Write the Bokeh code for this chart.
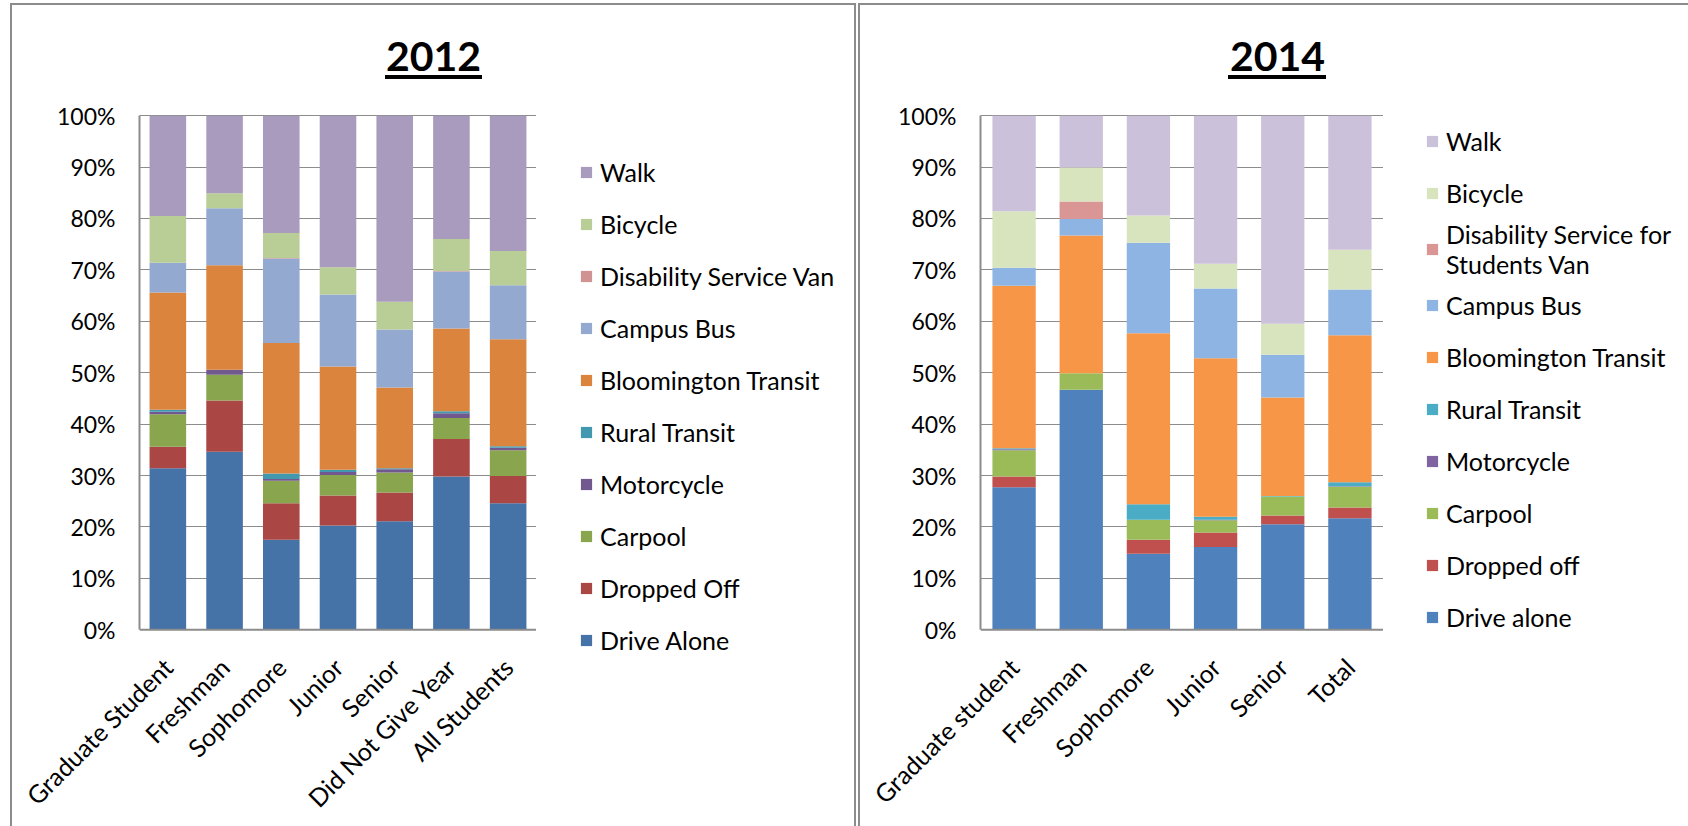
import math
from bokeh.plotting import figure
from bokeh.layouts import row
from bokeh.models import (ColumnDataSource, FactorRange, Range1d, Legend, LegendItem, Label,
                          NumeralTickFormatter, FixedTicker, Span)
from bokeh.embed import file_html
from bokeh.resources import INLINE

# ---------------- 2012 data (percent) ----------------
cats_2012 = ["Graduate Student", "Freshman", "Sophomore", "Junior", "Senior",
             "Did Not Give Year", "All Students"]
modes_2012 = ["Drive Alone", "Dropped Off", "Carpool", "Motorcycle", "Rural Transit",
              "Bloomington Transit", "Campus Bus", "Disability Service Van", "Bicycle", "Walk"]
drive_2012 = [31.4, 34.6, 17.5, 20.3, 21.1, 29.8, 24.6]
dropped_2012 = [4.2, 10.0, 7.1, 5.8, 5.6, 7.3, 5.3]
carpool_2012 = [6.3, 5.0, 4.4, 4.0, 3.9, 4.1, 5.0]
motorcycle_2012 = [0.5, 1.0, 0.3, 0.6, 0.6, 0.9, 0.5]
rural_2012 = [0.4, 0.0, 1.1, 0.4, 0.2, 0.4, 0.3]
bloomington_2012 = [22.8, 20.3, 25.4, 20.1, 15.7, 16.1, 20.8]
campus_2012 = [5.8, 11.1, 16.4, 14.0, 11.3, 11.1, 10.5]
disability_2012 = [0.0, 0.0, 0.1, 0.0, 0.0, 0.1, 0.0]
bicycle_2012 = [9.1, 2.9, 4.9, 5.3, 5.4, 6.2, 6.7]
walk_2012 = [19.5, 15.1, 22.8, 29.5, 36.2, 24.0, 26.3]
colors_2012 = ["#4572A7", "#AA4643", "#89A54E", "#71588F", "#4198AF",
               "#DB843D", "#93A9CF", "#D19392", "#B9CD96", "#A99BBD"]

# ---------------- 2014 data (percent) ----------------
cats_2014 = ["Graduate student", "Freshman", "Sophomore", "Junior", "Senior", "Total"]
modes_2014 = ["Drive alone", "Dropped off", "Carpool", "Motorcycle", "Rural Transit",
              "Bloomington Transit", "Campus Bus", "Disability Service for\nStudents Van",
              "Bicycle", "Walk"]
drive_2014 = [27.7, 46.7, 14.8, 16.1, 20.5, 21.7]
dropped_2014 = [2.1, 0.0, 2.7, 2.8, 1.7, 2.1]
carpool_2014 = [5.1, 3.2, 3.9, 2.4, 3.7, 4.0]
motorcycle_2014 = [0.2, 0.0, 0.0, 0.1, 0.0, 0.1]
rural_2014 = [0.2, 0.0, 3.0, 0.6, 0.1, 0.8]
bloomington_2014 = [31.6, 26.8, 33.3, 30.8, 19.2, 28.6]
campus_2014 = [3.5, 3.2, 17.6, 13.6, 8.3, 8.9]
disability_2014 = [0.0, 3.4, 0.0, 0.0, 0.0, 0.0]
bicycle_2014 = [11.0, 6.6, 5.3, 4.8, 6.0, 7.7]
walk_2014 = [18.6, 10.1, 19.4, 28.8, 40.5, 26.1]
colors_2014 = ["#4F81BD", "#C0504D", "#9BBB59", "#8064A2", "#4BACC6",
               "#F79646", "#8EB4E3", "#D99694", "#D7E4BD", "#CCC1DA"]

FONT = "Lato"
FS = "25px"
GRAY = "#8c8c8c"
H = 826
FT, FB = 30, 660          # shared frame top / bottom (pixels) of every figure in the row
Y100, Y0 = 116, 635       # pixel rows of 100% and 0%
PPU = Y0 - Y100


def deco_styles(layers):
    # panel frame lines and title underlines, drawn as CSS background layers
    imgs, sizes, poss = [], [], []
    for color, x, y, w, h in layers:
        imgs.append("linear-gradient(%s, %s)" % (color, color))
        sizes.append("%dpx %dpx" % (w, h))
        poss.append("%dpx %dpx" % (x, y))
    return {"background-image": ", ".join(imgs), "background-size": ", ".join(sizes),
            "background-position": ", ".join(poss), "background-repeat": "no-repeat"}


def make_chart(cats, series, colors, width, bl, title, title_x):
    keys = ["s%d" % i for i in range(len(series))]
    data = {"cat": cats}
    for k, v in zip(keys, series):
        data[k] = [x / 100.0 for x in v]
    src = ColumnDataSource(data)
    y_range = Range1d(-(FB - Y0) / PPU, 1 + (Y100 - FT) / PPU)
    p = figure(x_range=FactorRange(*cats), y_range=y_range, width=width, height=H,
               output_backend="svg", toolbar_location=None, title=None,
               min_border_left=bl, min_border_right=0, min_border_top=FT,
               min_border_bottom=H - FB)
    p.vbar_stack(keys, x="cat", width=0.645, fill_color=colors, line_color=None, source=src)
    p.background_fill_color = None
    p.border_fill_color = None
    p.outline_line_color = None

    p.yaxis.ticker = FixedTicker(ticks=[i / 10 for i in range(11)])
    p.yaxis.formatter = NumeralTickFormatter(format="0%")
    p.yaxis.bounds = (0, 1)
    for ax in (p.xaxis[0], p.yaxis[0]):
        ax.axis_line_color = GRAY
        ax.axis_line_width = 2
        ax.major_tick_line_color = None
        ax.minor_tick_line_color = None
        ax.major_tick_out = 0
        ax.major_tick_in = 0
        ax.major_label_text_font = FONT
        ax.major_label_text_color = "black"
    # x axis sits in the panel below the frame; its labels are offset so that they
    # hang below the 0% line, which is drawn as a span
    p.xaxis.axis_line_color = None
    p.xaxis.major_label_text_font_size = FS
    p.yaxis.major_label_text_font_size = "23px"
    p.yaxis.major_label_standoff = 24
    p.xaxis.major_label_standoff = 33 - (FB - Y0)
    p.xaxis.major_label_orientation = math.pi / 4
    p.ygrid.grid_line_color = GRAY
    p.ygrid.grid_line_width = 1
    p.xgrid.grid_line_color = None
    p.add_layout(Span(location=0, dimension="width", line_color=GRAY, line_width=2))
    p.add_layout(Label(x=title_x, y=(Y0 - 56) / PPU, text=title, text_font=FONT,
                       text_font_style="bold", text_font_size="41px", text_align="center",
                       text_baseline="alphabetic", text_color="black"))
    return p


def make_legend(colors, labels, width, left, loc, pitch):
    q = figure(x_range=Range1d(0, 1), y_range=Range1d(0, 1), width=width, height=H,
               output_backend="svg", toolbar_location=None, title=None,
               x_axis_type=None, y_axis_type=None)
    q.min_border_left = left
    q.min_border_top = FT
    q.min_border_right = 0
    q.min_border_bottom = H - FB
    q.grid.visible = False
    q.outline_line_color = None
    q.background_fill_color = None
    q.border_fill_color = None
    items = []
    for lab, c in zip(labels, colors):
        # zero-height carrier bar: only its legend swatch is seen
        r = q.vbar(x="x", top="top", width=0.5, fill_color=c, line_color=None,
                   source=ColumnDataSource(dict(x=[0.5], top=[0.0])))
        items.append(LegendItem(label=lab, renderers=[r]))
    leg = Legend(items=items[::-1], location=loc, orientation="vertical",
                 glyph_width=14, glyph_height=14, label_height=pitch, spacing=0,
                 label_standoff=7, padding=0, margin=0, border_line_color=None,
                 background_fill_alpha=0, label_text_font=FONT,
                 label_text_font_size=FS, label_text_color="black",
                 label_text_line_height=1.05)
    q.add_layout(leg, "center")
    return q


p1 = make_chart(cats_2012,
                [drive_2012, dropped_2012, carpool_2012, motorcycle_2012, rural_2012,
                 bloomington_2012, campus_2012, disability_2012, bicycle_2012, walk_2012],
                colors_2012, width=536, bl=139, title="2012", title_x=5.184)
l1 = make_legend(colors_2012, modes_2012, width=321, left=43, loc=(0, FB - 672), pitch=52)

p2 = make_chart(cats_2014,
                [drive_2014, dropped_2014, carpool_2014, motorcycle_2014, rural_2014,
                 bloomington_2014, campus_2014, disability_2014, bicycle_2014, walk_2014],
                colors_2014, width=526, bl=123, title="2014", title_x=4.422)
l2 = make_legend(colors_2014, modes_2014, width=305, left=42, loc=(0, FB - 649), pitch=52)

layout = row(p1, l1, p2, l2)
layout.styles = deco_styles([
    (GRAY, 10, 3, 2, H), (GRAY, 10, 3, 846, 2), (GRAY, 854, 3, 2, H),
    (GRAY, 858, 3, 2, H), (GRAY, 858, 3, 830, 2),
    ("#000000", 385, 75, 97, 4), ("#000000", 1228, 75, 98, 4),
])
open("out.html", "w").write(file_html(layout, INLINE))
